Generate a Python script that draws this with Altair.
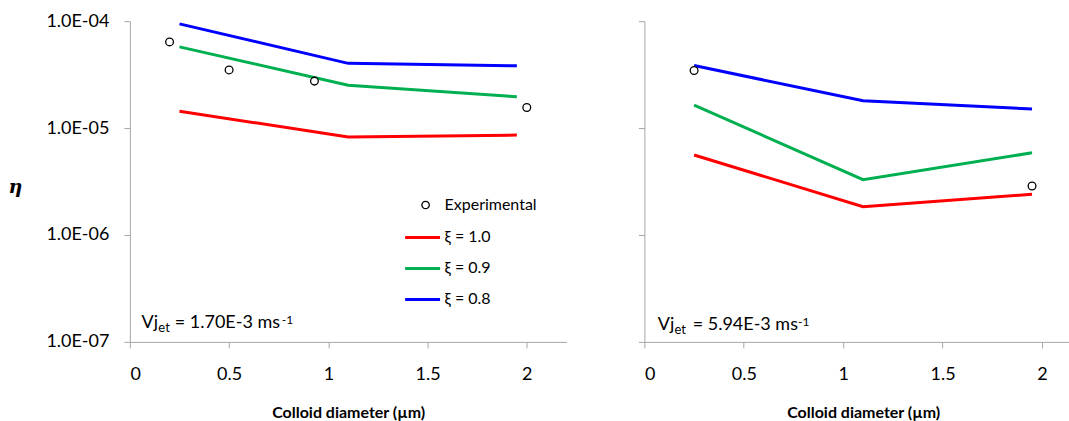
import altair as alt
import pandas as pd

FONT = "Lato"
AXIS_GRAY = "#a6a6a6"

# ---- data ----
diam_model = [0.25, 1.1, 1.95]
series_labels = ["ξ = 1.0", "ξ = 0.9", "ξ = 0.8"]
series_colors = ["#ff0000", "#00b050", "#0000ff"]

# left panel: Vjet = 1.70E-3 m/s
left_xi10 = [1.44e-5, 8.24e-6, 8.6e-6]
left_xi09 = [5.75e-5, 2.52e-5, 1.96e-5]
left_xi08 = [9.44e-5, 4.03e-5, 3.82e-5]
left_exp_d = [0.2, 0.5, 0.93, 2.0]
left_exp_eta = [6.4e-5, 3.5e-5, 2.75e-5, 1.56e-5]

# right panel: Vjet = 5.94E-3 m/s
right_xi10 = [5.6e-6, 1.84e-6, 2.4e-6]
right_xi09 = [1.64e-5, 3.29e-6, 5.87e-6]
right_xi08 = [3.85e-5, 1.8e-5, 1.51e-5]
right_exp_d = [0.25, 1.95]
right_exp_eta = [3.46e-5, 2.87e-6]

y_ticks = [1e-7, 1e-6, 1e-5, 1e-4]
x_ticks = [0, 0.5, 1, 1.5, 2]
exp_label = "Experimental"


def lines_frame(s10, s09, s08):
    rows = []
    for name, vals in zip(series_labels, [s10, s09, s08]):
        for d, v in zip(diam_model, vals):
            rows.append({"series": name, "d": d, "eta": v})
    return pd.DataFrame(rows)


def exp_frame(ds, etas):
    return pd.DataFrame({"kind": [exp_label] * len(ds), "d": ds, "eta": etas})


def text_piece(s, x, y, size):
    return alt.Chart(pd.DataFrame({"t": [s]})).mark_text(
        align="left", baseline="alphabetic", font=FONT, fontSize=size, color="black"
    ).encode(x=alt.value(x), y=alt.value(y), text="t:N")


def panel(lines_df, exp_df, x_max, width, is_left, vj_value, ann, title_x):
    xs = alt.Scale(domain=[0, x_max], nice=False, zero=False)
    ys = alt.Scale(type="log", domain=[1e-7, 1e-4], nice=False)
    x_axis = alt.Axis(
        values=x_ticks, format="~g", title="Colloid diameter (µm)",
        titleX=title_x, titleY=76, titleAlign="center", titleBaseline="alphabetic",
        titleFont=FONT, titleFontSize=16, titleFontWeight="bold", labelPadding=18,
    )
    if is_left:
        y_axis = alt.Axis(
            values=y_ticks, labelExpr="'1.0E-0' + round(-log(datum.value)/LN10)",
            title="η", titleAngle=0, titleX=-115, titleY=165, titleAlign="center",
            titleBaseline="middle", titleFont="DejaVu Serif", titleFontSize=19,
            titleFontStyle="italic", titleFontWeight="bold", labelPadding=15,
        )
        color_legend = alt.Legend(
            orient="none", legendX=274, legendY=197.5, title=None, direction="vertical",
            symbolType="stroke", symbolSize=1225, symbolStrokeWidth=3,
            labelFont=FONT, labelFontSize=16, labelOffset=3, rowPadding=4, padding=0,
        )
        stroke_legend = alt.Legend(
            orient="none", legendX=288, legendY=176, title=None, symbolType="circle",
            symbolFillColor="white", symbolStrokeWidth=1.3,
            symbolSize=55, symbolOpacity=1, labelFont=FONT, labelFontSize=16,
            labelOffset=11, padding=0,
        )
    else:
        y_axis = alt.Axis(values=y_ticks, labels=False, title=None)
        color_legend = None
        stroke_legend = None

    lines = alt.Chart(lines_df).mark_line(strokeWidth=3).encode(
        x=alt.X("d:Q", scale=xs, axis=x_axis),
        y=alt.Y("eta:Q", scale=ys, axis=y_axis),
        color=alt.Color("series:N", scale=alt.Scale(domain=series_labels, range=series_colors),
                        legend=color_legend),
        order="d:Q",
    )
    points = alt.Chart(exp_df).mark_point(
        shape="circle", filled=False, fill="white", fillOpacity=1, strokeWidth=1.3,
        size=60, opacity=1
    ).encode(
        x=alt.X("d:Q", scale=xs),
        y=alt.Y("eta:Q", scale=ys),
        stroke=alt.Stroke("kind:N", scale=alt.Scale(domain=[exp_label], range=["black"]),
                          legend=stroke_legend),
    )
    ax, base = ann
    texts = [
        text_piece("Vj", ax[0], base, 18),
        text_piece("et", ax[1], base + 4, 13),
        text_piece("= " + vj_value + " ms", ax[2], base, 18),
        text_piece("-1", ax[3], base - 4, 12),
    ]
    return alt.layer(lines, points, *texts).properties(width=width, height=321)


left = panel(lines_frame(left_xi10, left_xi09, left_xi08), exp_frame(left_exp_d, left_exp_eta),
             2.2, 437, True, "1.70E-3", ([11.7, 28.5, 45, 152], 307.3), 218.5)
right = panel(lines_frame(right_xi10, right_xi09, right_xi08), exp_frame(right_exp_d, right_exp_eta),
              2.136, 425, False, "5.94E-3", ([13.4, 30.2, 48.4, 153.7], 309.3), 219)

chart = alt.hconcat(left, right, spacing=71).resolve_scale(
    color="independent", stroke="independent"
).resolve_legend(color="independent", stroke="independent").configure_view(
    stroke=None
).configure_axis(
    grid=False, domainColor=AXIS_GRAY, tickColor=AXIS_GRAY, tickSize=6,
    labelFont=FONT, labelFontSize=18, labelColor="black", titleColor="black",
).properties(padding={"left": 8, "top": 12, "right": 0, "bottom": 0})

chart.save("out.html", embed_options={"renderer": "svg", "actions": False})
